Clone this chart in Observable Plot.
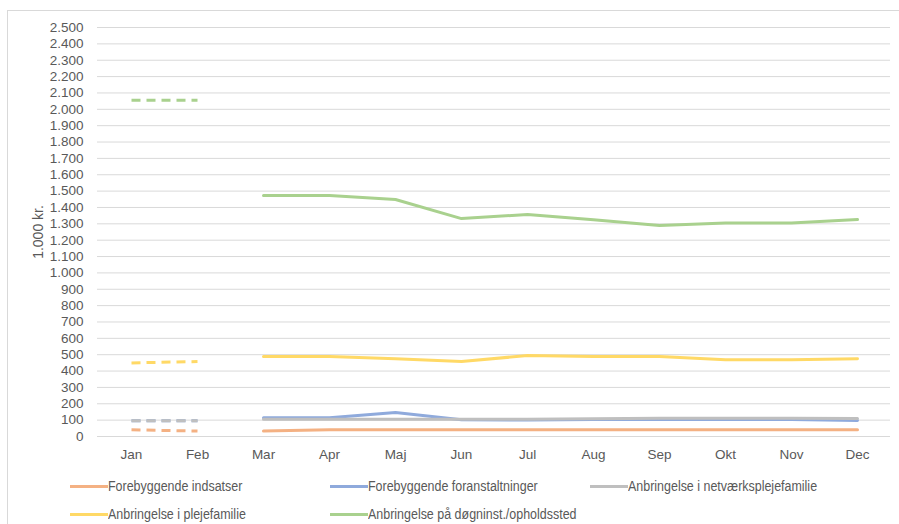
<!DOCTYPE html>
<html><head><meta charset="utf-8">
<script src="https://cdn.jsdelivr.net/npm/d3@7"></script>
<script src="https://cdn.jsdelivr.net/npm/@observablehq/plot@0.6"></script>
<style>
body{margin:0;background:#fff;font-family:"Liberation Sans",sans-serif;}
#wrap{position:relative;width:899px;height:524px;overflow:hidden;}
#frame{position:absolute;left:7px;top:10px;width:900px;height:520px;border-left:1px solid #d9d9d9;border-top:1px solid #d9d9d9;}
#chart{position:absolute;left:0;top:0;}
#legend{position:absolute;left:0;top:475px;width:899px;font-size:14px;color:#595959;}
.item{position:absolute;display:flex;align-items:center;white-space:nowrap;}
.sw{width:38px;height:3px;margin-right:0px;flex:none;}
.lt{display:inline-block;transform:scaleX(0.89);transform-origin:left center;}
</style></head>
<body><div id="wrap"><div id="frame"></div><div id="chart"></div><div id="legend"></div></div>
<script>
const months = ["Jan","Feb","Mar","Apr","Maj","Jun","Jul","Aug","Sep","Okt","Nov","Dec"];
const seriesNames = ["Forebyggende indsatser","Forebyggende foranstaltninger","Anbringelse i netværksplejefamilie","Anbringelse i plejefamilie","Anbringelse på døgninst./opholdssted"];
const colors = ["#F4B183","#8FAADC","#BFBFBF","#FFD966","#A9D18E"];
const yTicks = d3.range(0, 2501, 100);
// Jan–Feb (dashed)
const dashMonths = ["Jan","Feb"];
const dashOrange = [41, 33];
const dashBlue = [97, 97];
const dashGray = [96, 96];
const dashYellow = [450, 458];
const dashGreen = [2055, 2055];
// Mar–Dec (solid)
const solidMonths = ["Mar","Apr","Maj","Jun","Jul","Aug","Sep","Okt","Nov","Dec"];
const solidOrange = [33, 41, 41, 41, 41, 41, 41, 41, 41, 41];
const solidBlue = [114, 114, 146, 102, 101, 104, 104, 104, 104, 98];
const solidGray = [106, 106, 106, 106, 106, 108, 112, 112, 112, 110];
const solidYellow = [489, 489, 476, 458, 495, 489, 489, 469, 469, 475];
const solidGreen = [1473, 1473, 1449, 1332, 1357, 1325, 1290, 1305, 1305, 1326];

const dashVals = [dashOrange, dashBlue, dashGray, dashYellow, dashGreen];
const solidVals = [solidOrange, solidBlue, solidGray, solidYellow, solidGreen];
const dashData = seriesNames.flatMap((s,i)=>dashMonths.map((m,j)=>({series:s, month:m, value:dashVals[i][j]})));
const solidData = seriesNames.flatMap((s,i)=>solidMonths.map((m,j)=>({series:s, month:m, value:solidVals[i][j]})));

const fmt = d3.formatLocale({decimal:",", thousands:".", grouping:[3], currency:["","kr."]}).format(",d");

const chart = Plot.plot({
  width: 899, height: 470,
  marginLeft: 97, marginRight: 9, marginTop: 27, marginBottom: 34,
  style: {fontFamily: "'Liberation Sans', sans-serif", fontSize: "13.5px", color: "#595959", background: "transparent"},
  x: {type: "point", domain: months, padding: 0.5, label: null, tickSize: 0, tickPadding: 13},
  y: {domain: [0, 2500], ticks: yTicks, tickFormat: fmt, label: null, tickSize: 0, tickPadding: 14},
  color: {domain: seriesNames, range: colors},
  marks: [
    Plot.gridY(yTicks, {stroke: "#d9d9d9", strokeOpacity: 1, strokeWidth: 1}),
    Plot.line(dashData, {x: "month", y: "value", z: "series", stroke: "series", strokeWidth: 3, strokeDasharray: "9,6", strokeLinecap: "butt"}),
    Plot.line(solidData, {x: "month", y: "value", z: "series", stroke: "series", strokeWidth: 3, strokeLinejoin: "round"}),
    Plot.text(["1.000 kr."], {frameAnchor: "left", textAnchor: "middle", dx: -59, rotate: -90, y: [1250], fontSize: 14, fill: "#595959"})
  ]
});
document.getElementById("chart").appendChild(chart);

const positions = [[70,11],[330,11],[590,11],[70,39],[330,39]];
const leg = document.getElementById("legend");
seriesNames.forEach((s,i)=>{
  const d = document.createElement("div");
  d.className = "item";
  d.style.left = positions[i][0] + "px";
  d.style.top = (positions[i][1] - 8) + "px";
  d.innerHTML = `<span class="sw" style="background:${colors[i]}"></span><span class="lt">${s}</span>`;
  leg.appendChild(d);
});
</script></body></html>
